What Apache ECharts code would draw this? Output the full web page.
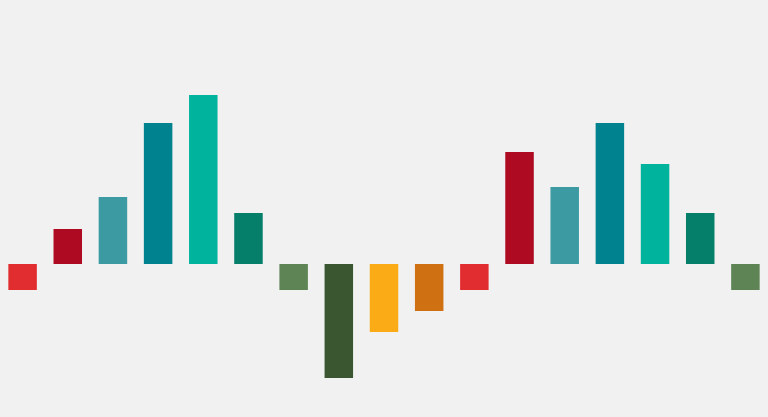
<!DOCTYPE html>
<html>
<head>
<meta charset="utf-8">
<script src="https://cdn.jsdelivr.net/npm/echarts@6/dist/echarts.min.js"></script>
<style>
  html, body { margin: 0; padding: 0; background: #f1f1f1; }
  #chart { width: 768px; height: 417px; }
</style>
</head>
<body>
<div id="chart"></div>
<script>
// bar categories and values
const categories = ['1', '2', '3', '4', '5', '6', '7', '8', '9', '10', '11', '12', '13', '14', '15', '16', '17']
const values = [-2.6, 3.5, 6.7, 14.1, 16.9, 5.1, -2.6, -11.4, -6.8, -4.7, -2.6, 11.2, 7.7, 14.1, 10.0, 5.1, -2.6]
const barColors = ['#e12d2f', '#ae0a21', '#3b9aa2', '#00838f', '#00b39c', '#057f69', '#5e8455',
  '#3a5630', '#fbab15', '#cf7113', '#e12d2f', '#ae0a21', '#3b9aa2', '#00838f', '#00b39c', '#057f69', '#5e8455']

const chart = echarts.init(document.getElementById('chart'))

const option = {
  backgroundColor: '#f1f1f1',
  animation: false,
  grid: { left: -2, right: -2, top: 0, bottom: 0, containLabel: false },
  xAxis: {
    type: 'category',
    data: categories,
    show: false
  },
  yAxis: {
    type: 'value',
    min: -15.3,
    max: 26.4,
    show: false
  },
  series: [
    {
      type: 'bar',
      barWidth: 28.5,
      data: values.map((v, i) => ({ value: v, itemStyle: { color: barColors[i] } }))
    }
  ]
}
chart.setOption(option)
</script>
</body>
</html>
